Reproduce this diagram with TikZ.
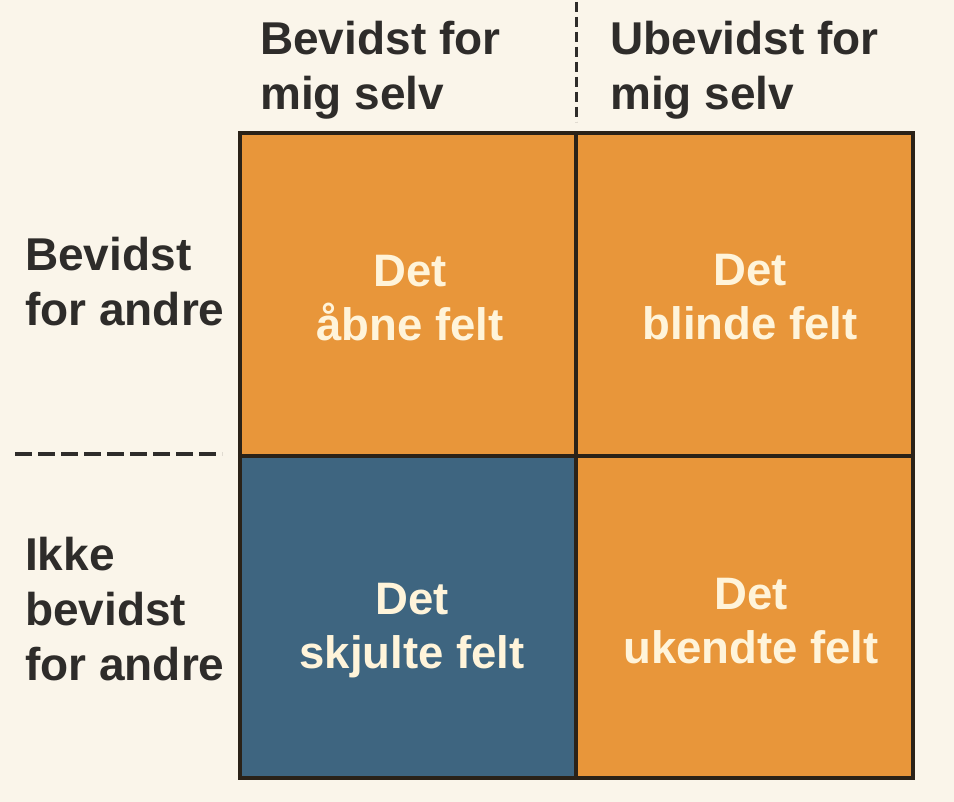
\documentclass[tikz,border=0pt]{standalone}
\usepackage{fontspec}
\setmainfont{Liberation Sans}
\begin{document}
\definecolor{paper}{HTML}{FAF5EA}
\definecolor{fieldorange}{HTML}{E8963A}
\definecolor{fieldblue}{HTML}{3E6580}
\definecolor{ink}{HTML}{2E2C2A}
\definecolor{frame}{HTML}{2A2218}
\definecolor{cream}{HTML}{FFF4DA}
\begin{tikzpicture}[x=1pt,y=-1pt,
  lbl/.style={font=\bfseries\fontsize{46}{55}\selectfont, text=ink, align=left, inner sep=0pt, anchor=north west},
  fieldtxt/.style={font=\bfseries\fontsize{45.5}{54}\selectfont, text=cream, align=center, inner sep=0pt, anchor=north},
  cell/.style={draw=frame, line width=4pt}
]
% canvas
\fill[paper] (0,0) rectangle (954,802);
\useasboundingbox (0,0) rectangle (954,802);

% grid corners
\coordinate (tl) at (240,133);
\coordinate (tm) at (576,133);
\coordinate (tr) at (913,133);
\coordinate (ml) at (240,456);
\coordinate (mm) at (576,456);
\coordinate (mr) at (913,456);
\coordinate (bl) at (240,778);
\coordinate (bm) at (576,778);
\coordinate (br) at (913,778);

% the four fields
\fill[fieldorange] (tl) rectangle (mm);
\fill[fieldorange] (tm) rectangle (mr);
\fill[fieldblue] (ml) rectangle (bm);
\fill[fieldorange] (mm) rectangle (br);
\draw[cell] (tl) rectangle (br);
\draw[cell] (tm) -- (bm);
\draw[cell] (ml) -- (mr);

% dashed separators outside the grid
\coordinate (vtop) at (576,2);
\coordinate (vbot) at (576,122);
\draw[ink, line width=3pt, dash pattern=on 10pt off 5pt] (vtop) -- (vbot);
\coordinate (hleft) at (15,454);
\coordinate (hright) at (222,454);
\draw[ink, line width=4pt, dash pattern=on 17pt off 6pt] (hleft) -- (hright);

% column headings
\node[lbl] (colA) at (260,21) {Bevidst for\\mig selv};
\node[lbl] (colB) at (610,21) {Ubevidst for\\mig selv};

% row headings
\node[lbl] (rowA) at (25,237) {Bevidst\\for andre};
\node[lbl] (rowB) at (25,537) {Ikke\\bevidst\\for andre};

% field names
\node[fieldtxt] (open) at (410,255) {Det\\åbne felt};
\node[fieldtxt] (blind) at (750,254) {Det\\blinde felt};
\node[fieldtxt] (hidden) at (412,583) {Det\\skjulte felt};
\node[fieldtxt] (unknown) at (751,578) {Det\\ukendte felt};
\end{tikzpicture}
\end{document}
